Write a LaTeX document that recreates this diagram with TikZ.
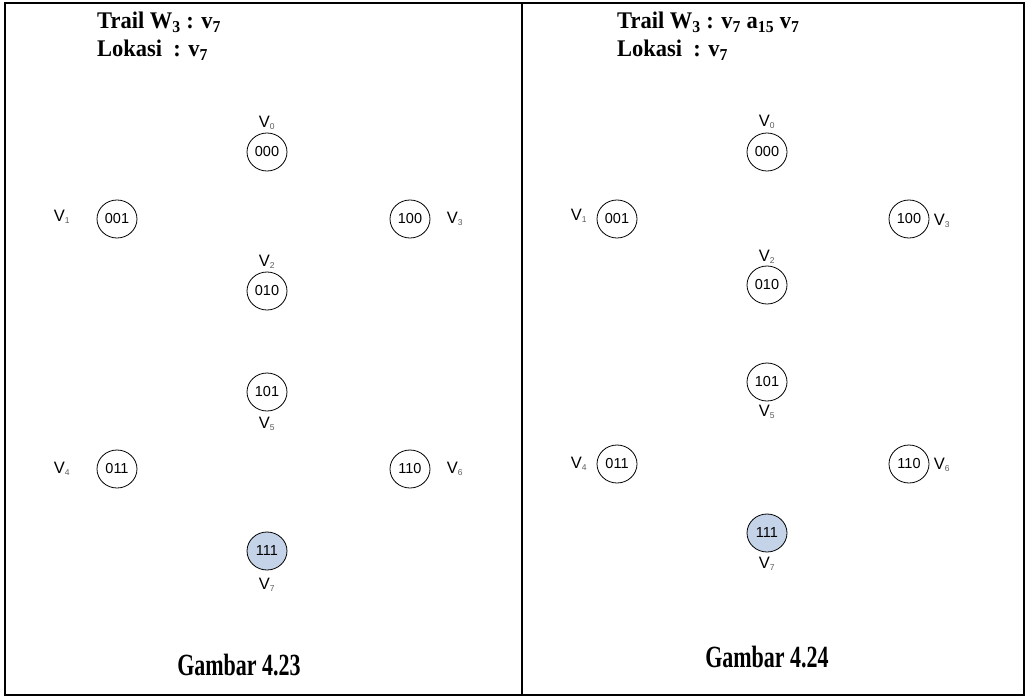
\documentclass[tikz,border=0pt]{standalone}
\usepackage{fontspec}
\usepackage{graphicx}
\setmainfont{Liberation Serif}
\newfontfamily\arial{Liberation Sans}
\usetikzlibrary{shapes.geometric}
\definecolor{nodefill}{RGB}{197,211,232}
\definecolor{subgray}{RGB}{90,90,90}
\tikzset{
  vert/.style={draw, ellipse, line width=0.8pt, minimum width=40pt, minimum height=38pt, inner sep=0pt, font=\arial\fontsize{14.5}{14.5}\selectfont},
  hl/.style={vert, fill=nodefill},
  vlab/.style={inner sep=0pt, font=\arial\fontsize{16.5}{16.5}\selectfont},
  title/.style={anchor=base west, inner sep=0pt, font=\bfseries\fontsize{22.5}{22.5}\selectfont},
  caption/.style={anchor=base, inner sep=0pt, font=\bfseries\fontsize{22}{22}\selectfont},
  frame/.style={line width=1.5pt}
}
\newcommand{\vl}[1]{V\textsubscript{\textcolor{subgray}{\fontsize{8.5}{8.5}\selectfont #1}}}
\newcommand{\tstretch}[1]{\scalebox{1}[1.06]{#1}}
\newcommand{\cstretch}[1]{\scalebox{1}[1.4]{#1}}
\begin{document}
\begin{tikzpicture}[x=1pt,y=-1pt]
\useasboundingbox (0,0) rectangle (1027,698);
% frames
\coordinate (tl) at (5,3);
\coordinate (br) at (1024,695);
\coordinate (dt) at (522,3);
\coordinate (db) at (522,695);
\draw[frame] (tl) rectangle (br);
\draw[frame] (dt) -- (db);

% ---------- left panel ----------
\node[title] (t1) at (97,29) {\tstretch{Trail W\textsubscript{3} : v\textsubscript{7}}};
\node[title] (l1) at (97,57) {\tstretch{Lokasi\ \ : v\textsubscript{7}}};

\node[vert] (a0) at (267,152) {000};
\node[vlab] (la0) at (267,123) {\vl{0}};
\node[vert] (a1) at (117,219) {001};
\node[vlab] (la1) at (62,217) {\vl{1}};
\node[vert] (a3) at (410,219) {100};
\node[vlab] (la3) at (455,219) {\vl{3}};
\node[vert] (a2) at (267,291) {010};
\node[vlab] (la2) at (267,262) {\vl{2}};
\node[vert] (a5) at (267,392) {101};
\node[vlab] (la5) at (267,424) {\vl{5}};
\node[vert] (a4) at (117,469) {011};
\node[vlab] (la4) at (62,469) {\vl{4}};
\node[vert] (a6) at (410,469) {110};
\node[vlab] (la6) at (455,469) {\vl{6}};
\node[hl] (a7) at (267,551) {111};
\node[vlab] (la7) at (267,585) {\vl{7}};

\node[caption] (c1) at (239,675) {\cstretch{Gambar 4.23}};

% ---------- right panel ----------
\node[title] (t2) at (617,29) {\tstretch{Trail W\textsubscript{3} : v\textsubscript{7} a\textsubscript{15} v\textsubscript{7}}};
\node[title] (l2) at (617,57) {\tstretch{Lokasi\ \ : v\textsubscript{7}}};

\node[vert] (b0) at (767,152) {000};
\node[vlab] (lb0) at (767,122) {\vl{0}};
\node[vert] (b1) at (617,219) {001};
\node[vlab] (lb1) at (579,216) {\vl{1}};
\node[vert] (b3) at (909,219) {100};
\node[vlab] (lb3) at (942,221) {\vl{3}};
\node[vert] (b2) at (767,285) {010};
\node[vlab] (lb2) at (767,257) {\vl{2}};
\node[vert] (b5) at (767,382) {101};
\node[vlab] (lb5) at (767,412) {\vl{5}};
\node[vert] (b4) at (617,464) {011};
\node[vlab] (lb4) at (579,464) {\vl{4}};
\node[vert] (b6) at (909,464) {110};
\node[vlab] (lb6) at (942,465) {\vl{6}};
\node[hl] (b7) at (767,533) {111};
\node[vlab] (lb7) at (767,564) {\vl{7}};

\node[caption] (c2) at (767,667) {\cstretch{Gambar 4.24}};
\end{tikzpicture}
\end{document}
